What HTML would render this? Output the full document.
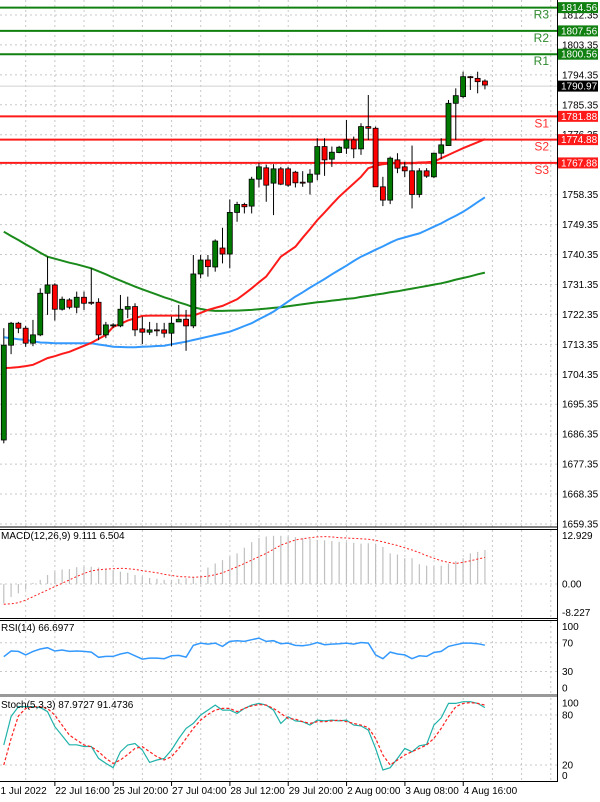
<!DOCTYPE html>
<html><head><meta charset="utf-8">
<style>
html,body{margin:0;padding:0;background:#fff;}
svg{display:block;font-family:"Liberation Sans",sans-serif;}
</style></head>
<body>
<svg id="chart" width="600" height="802" viewBox="0 0 600 802"></svg>
<script>
const openP=[1684.6,1713.1,1719.7,1718.2,1713.7,1716.2,1728.7,1731.2,1723.9,1726.7,1724.5,1727.5,1726.0,1726.0,1716.2,1718.9,1718.9,1723.9,1724.7,1718.0,1717.0,1717.7,1717.7,1716.7,1720.1,1720.9,1718.9,1734.5,1738.7,1736.6,1742.3,1740.5,1753.0,1755.4,1754.9,1763.0,1766.4,1761.8,1766.1,1766.1,1765.1,1762.1,1762.1,1764.5,1772.8,1769.0,1771.0,1772.3,1774.8,1772.1,1778.8,1778.3,1760.7,1756.7,1768.8,1766.7,1765.5,1758.4,1765.5,1763.7,1770.8,1773.1,1785.8,1787.8,1793.8,1793.3,1792.5];
const closeP=[1713.1,1719.7,1718.2,1713.7,1716.2,1728.7,1731.2,1723.9,1726.9,1724.5,1727.5,1725.7,1725.7,1716.2,1719.2,1719.2,1723.9,1724.7,1717.7,1717.0,1717.7,1717.4,1716.7,1719.7,1720.9,1718.9,1734.5,1738.7,1736.7,1744.4,1740.5,1753.0,1755.4,1754.7,1763.0,1766.7,1761.2,1766.1,1761.5,1761.2,1761.9,1761.8,1764.5,1772.8,1768.8,1771.1,1772.6,1774.8,1772.1,1778.8,1778.3,1760.7,1756.7,1769.3,1766.3,1765.5,1758.4,1765.5,1763.9,1770.8,1773.3,1785.8,1788.1,1793.8,1793.6,1792.3,1791.3];
const highP=[1718.2,1720.1,1720.1,1718.9,1720.7,1730.2,1739.7,1731.7,1727.7,1727.2,1729.2,1729.2,1736.2,1727.2,1720.1,1719.7,1728.2,1727.7,1725.7,1721.7,1720.1,1719.8,1719.8,1721.7,1725.2,1723.7,1740.2,1740.2,1740.2,1744.9,1748.4,1756.9,1756.2,1755.9,1763.7,1767.8,1767.3,1767.5,1766.7,1766.7,1765.5,1765.4,1766.0,1775.3,1775.3,1772.8,1773.0,1780.8,1775.8,1779.8,1788.3,1778.8,1763.7,1769.8,1770.8,1768.2,1773.1,1766.3,1766.3,1771.0,1775.3,1786.8,1790.3,1795.3,1794.0,1795.3,1793.0];
const lowP=[1683.6,1710.4,1716.7,1712.6,1712.8,1715.8,1722.2,1720.5,1723.5,1723.9,1722.7,1723.7,1725.2,1714.6,1715.2,1718.2,1718.5,1721.2,1715.8,1713.4,1716.2,1715.8,1715.4,1712.8,1720.1,1711.4,1718.2,1733.2,1733.7,1735.2,1737.7,1736.2,1750.2,1752.7,1752.7,1760.5,1756.2,1752.2,1761.2,1760.7,1760.5,1760.7,1758.4,1762.7,1764.0,1766.7,1770.8,1770.6,1769.3,1770.3,1774.8,1760.7,1754.9,1755.5,1764.8,1763.6,1754.2,1757.5,1763.4,1763.3,1769.0,1773.1,1774.8,1787.3,1789.8,1788.8,1790.0];
const maFast=[1706.2,1706.3,1706.5,1706.8,1707.2,1708.2,1709.2,1709.8,1710.5,1711.1,1712,1712.9,1713.8,1715,1716.2,1718.6,1719.5,1720.5,1721.2,1721.9,1722,1722,1722,1722,1722,1722,1722,1722.8,1723.7,1724.3,1724.9,1725.9,1726.9,1728.5,1730.2,1732,1733.7,1736.7,1739.7,1741.2,1742.7,1745.4,1748,1750.7,1753,1755.4,1757.7,1759.7,1761.7,1763.7,1766.3,1767,1767.5,1767.8,1767.8,1767.8,1767.8,1768,1768.1,1768.25,1769.3,1770.3,1771.3,1772.3,1773.2,1774.1,1775];
const maMid=[1715.5,1715.2,1714.9,1714.7,1714.3,1713.9,1713.8,1713.7,1713.65,1713.65,1713.65,1713.65,1713.65,1713.3,1713,1712.65,1712.55,1712.5,1712.45,1712.6,1712.7,1712.85,1712.95,1713.35,1713.75,1714.15,1714.65,1715.15,1715.65,1716.15,1716.65,1717.15,1718,1718.85,1719.7,1720.9,1722,1723.2,1724.7,1726.2,1727.7,1729,1730.4,1731.7,1733,1734.4,1735.7,1737,1738.4,1739.7,1740.7,1741.8,1742.8,1743.9,1744.9,1745.5,1746.1,1746.7,1747.7,1748.7,1749.7,1750.9,1752,1753.2,1754.6,1756.1,1757.55];
const maSlow=[1747.2,1745.9,1744.7,1743.4,1742.2,1740.9,1739.7,1739.1,1738.5,1737.9,1737.4,1736.8,1736.2,1735.3,1734.4,1733.4,1732.5,1731.6,1730.7,1729.9,1729.1,1728.3,1727.5,1726.8,1726,1725.3,1724.5,1724,1723.6,1723.4,1723.4,1723.5,1723.5,1723.6,1723.7,1723.9,1724.1,1724.3,1724.5,1724.8,1725.1,1725.4,1725.7,1726,1726.2,1726.5,1726.7,1727,1727.2,1727.6,1727.9,1728.3,1728.6,1729,1729.3,1729.7,1730.1,1730.5,1730.9,1731.3,1731.7,1732.2,1732.8,1733.3,1733.8,1734.4,1734.9];
const macdHist=[-5.2,-3.5,-2.5,-1.5,0.3,1.1,2.4,3.3,3.9,4.0,4.5,4.6,4.6,4.4,4.0,3.6,3.3,3.0,2.4,2.0,1.6,1.4,1.1,1.1,1.3,1.5,1.8,2.2,4.4,5.5,6.4,7.3,8.2,9.7,11.2,12.3,12.7,12.9,12.9,12.7,12.5,12.3,12.1,11.8,11.7,11.5,11.3,11.2,11.0,10.8,10.9,10.8,9.9,8.2,7.9,6.9,6.9,5.3,4.9,4.8,4.9,5.5,6.1,6.9,8.2,8.6,9.1];
const macdSignal=[-5.4,-5.3,-5,-4.3,-3.4,-2.5,-1.6,-0.7,0.2,1.1,2,2.8,3.5,3.8,4,4.1,4.2,4.1,3.9,3.6,3.3,3,2.6,2.3,2,1.9,1.8,1.9,2.1,2.5,3,3.8,4.6,5.5,6.4,7.3,8.2,9.3,10.4,11.1,11.8,12.1,12.4,12.6,12.7,12.6,12.4,12.3,12.2,12.1,12,11.7,11.3,10.8,10.3,9.7,9.1,8.4,7.6,6.9,6.2,5.8,5.5,5.8,6.2,6.7,7.1];
const rsiVals=[50.6,58.6,58,53.1,58,61.4,63.2,58.6,60,58,58.6,58,57,49.8,51.1,51.1,54.4,56.5,51.9,47.3,48.7,48.7,47.8,51.9,52.4,50.1,66.4,69.6,68.2,69.6,65,72,72.9,72,74.3,76.6,72,72.9,68.7,69.6,66.4,66,67.3,70.5,67.3,68.2,68.7,69.6,68.2,70.5,69.6,53.1,47.8,57,54.4,53.1,47.8,51.9,51.1,56.5,58,65,67.3,69.6,69.6,68.7,66.7];
const stochMain=[44,78.3,90.1,90.1,90.1,89,84.1,66.1,55.3,44.3,44.3,42.3,42.3,28,22,16.8,35.9,44,45.9,38,23.2,26,28,38,51.9,64,70,80,86,92,86,86,82,88,92,94,92,86,70,78,73,72,68,74,73,74,73,74,68,67,62,40,14,16.8,28,40,35.9,43.1,44.7,68,76.6,94,94,96,96,94,89];
const stochSignal=[20,51.9,79,88,90,90,88,80,68,56,50,44,42,36,28,22,26,32.7,40,42,36,30,26,30,40,52,64,74,80.7,86,88,88,84,88,91,92.6,92,88,82,76,75,72,70,72,72,73,74,72,70,68,65,52,32,20,26,32,36,40,44,52,64,78,90,94,95,94,92];
const priceTicks=[1812.35,1803.35,1794.35,1785.35,1776.35,1767.35,1758.35,1749.35,1740.35,1731.35,1722.35,1713.35,1704.35,1695.35,1686.35,1677.35,1668.35,1659.35];
const pivotNames=["R3","R2","R1","S1","S2","S3"];
const pivotValues=[1814.56,1807.56,1800.56,1781.88,1774.88,1767.88];
const timeLabels=["1 Jul 2022","22 Jul 16:00","25 Jul 20:00","27 Jul 04:00","28 Jul 12:00","29 Jul 20:00","2 Aug 00:00","3 Aug 08:00","4 Aug 16:00"];
const lastPrice=1790.97;

const NS="http://www.w3.org/2000/svg";
const svg=document.getElementById("chart");
function mk(tag,attrs,parent){const e=document.createElementNS(NS,tag);for(const k in attrs)e.setAttribute(k,attrs[k]);(parent||svg).appendChild(e);return e;}
const PR=557;
const xC=i=>3.8+i*7.29;
const yP=p=>524-(p-1659.35)*3.327;
const yM=v=>584-v*3.736;
const yR=v=>693-v*0.717;
const yS=v=>781.7-v*0.833;

// grid verticals
const grid=mk("g",{});


for(let x=25.7;x<PR;x+=29.17){
  [[0,527],[530,618],[621,694],[698,781]].forEach(r=>mk("line",{x1:x,x2:x,y1:r[0],y2:r[1],stroke:"#c8c8c8","stroke-dasharray":"2,3","stroke-width":1},grid));
}
priceTicks.forEach(p=>mk("line",{x1:0,x2:PR,y1:yP(p),y2:yP(p),stroke:"#c8c8c8","stroke-dasharray":"2,3"},grid));
mk("line",{x1:0,x2:PR,y1:yM(0),y2:yM(0),stroke:"#c8c8c8","stroke-dasharray":"2,3"},grid);
[70,30].forEach(v=>mk("line",{x1:0,x2:PR,y1:yR(v),y2:yR(v),stroke:"#c8c8c8","stroke-dasharray":"2,3"},grid));
[80,20].forEach(v=>mk("line",{x1:0,x2:PR,y1:yS(v),y2:yS(v),stroke:"#c8c8c8","stroke-dasharray":"2,3"},grid));

// current price line
const cur=mk("line",{x1:0,x2:PR,y1:yP(lastPrice),y2:yP(lastPrice),stroke:"#d0d0d0","stroke-width":1});



// moving averages
function poly(arr,fy,color,w,name,dash){
  const pts=arr.map((v,i)=>xC(i).toFixed(1)+","+fy(v).toFixed(1)).join(" ");
  const e=mk("polyline",{points:pts,fill:"none",stroke:color,"stroke-width":w});
  if(dash)e.setAttribute("stroke-dasharray",dash);
  
  
  return e;
}
poly(maSlow,yP,"#1a8a1a",2,"ma-slow-line");
poly(maMid,yP,"#3399ff",2,"ma-mid-line");
poly(maFast,yP,"#ff1a1a",2,"ma-fast-line");

// pivots
pivotValues.forEach((v,k)=>{
  const res=pivotNames[k][0]==="R";
  const col=res?"#108010":"#ff1a1a";
  const y=yP(v);
  const l=mk("line",{x1:0,x2:PR,y1:y,y2:y,stroke:col,"stroke-width":2});
  
  
  const t=mk("text",{x:549,y:y+11,"text-anchor":"end","font-size":12,fill:res?"#2e8b2e":"#ff3030"});
  t.textContent=pivotNames[k];
  
  
});

// candles
const cg=mk("g",{});


openP.forEach((o,i)=>{
  const c=closeP[i],x=xC(i);
  const wk=mk("line",{x1:x,x2:x,y1:yP(highP[i]),y2:yP(lowP[i]),stroke:"#000","stroke-width":1},cg);
  
  
  const top=yP(Math.max(o,c)),bot=yP(Math.min(o,c));
  const b=mk("rect",{x:x-2.5,y:top,width:5,height:Math.max(1,bot-top),fill:c>=o?"#007a00":"#ff0000",stroke:"#000","stroke-width":0.8},cg);
  
  
});

// MACD
const mg=mk("g",{});


macdHist.forEach((v,i)=>{
  const b=mk("line",{x1:xC(i),x2:xC(i),y1:yM(0),y2:yM(v),stroke:"#c0c0c0","stroke-width":1.2},mg);
  
  
});
poly(macdSignal,yM,"#ff2020",1,"macd-signal-line","2,2");
poly(rsiVals,yR,"#3399ff",1.5,"rsi-line");
poly(stochMain,yS,"#20b2aa",1.2,"stoch-main-line");
poly(stochSignal,yS,"#ff2020",1.2,"stoch-signal-line","3,2");

// panel borders / separators
[[527,"#000",1],[529.5,"#000",1],[618.5,"#000",1],[620.5,"#000",1],[695.5,"#999",3],[781.5,"#000",1]].forEach(s=>{
  const l=mk("line",{x1:0,x2:PR,y1:s[0],y2:s[0],stroke:s[1],"stroke-width":s[2]});
  
  
});
const ax=mk("line",{x1:PR+0.5,x2:PR+0.5,y1:0,y2:782,stroke:"#000"});



// axis labels
function txt(x,y,s,name,opt){
  const t=mk("text",Object.assign({x:x,y:y,"font-size":10,fill:"#000"},opt||{}));
  t.textContent=s;
  
  
  return t;
}
priceTicks.forEach(p=>txt(562,yP(p)+3.5,p.toFixed(2),"price-tick"));
[[12.929,"12.929"],[0,"0.00"],[-7.6,"-8.227"]].forEach(a=>txt(562,yM(a[0])+3.5,a[1],"macd-tick"));
[[100,"100"],[70,"70"],[30,"30"],[0,"0"]].forEach(a=>txt(562,(a[0]===100?626.7:a[0]===0?688:yR(a[0]))+3.5,a[1],"rsi-tick"));
[[100,"100"],[80,"80"],[20,"20"],[0,"0"]].forEach(a=>txt(562,(a[0]===100?703:a[0]===0?775.7:yS(a[0]))+3.5,a[1],"stoch-tick"));

// price boxes
pivotValues.forEach((v,k)=>{
  const res=pivotNames[k][0]==="R";
  const y=yP(v);
  const r=mk("rect",{x:558,y:y-5.5,width:40,height:11,fill:res?"#108010":"#ff1a1a"});
  
  
  txt(561,y+3.5,v.toFixed(2),"pivot-price-label",{fill:"#fff"});
});
const lb=mk("rect",{x:558,y:yP(lastPrice)-5.5,width:40,height:11,fill:"#000"});


txt(561,yP(lastPrice)+3.5,lastPrice.toFixed(2),"last-price-label",{fill:"#fff"});

// indicator titles
txt(1,539,"MACD(12,26,9) 9.111 6.504","macd-title");
txt(1,631,"RSI(14) 66.6977","rsi-title");
txt(1,708,"Stoch(5,3,3) 87.9727 91.4736","stoch-title");

// time axis
timeLabels.forEach((s,k)=>{
  const gx=k===0?0:25.7+29.17*(2*k-1);
  if(k>0){const tk=mk("line",{x1:gx,x2:gx,y1:782,y2:786,stroke:"#000"});
    
    }
  txt(k===0?0.5:gx+0.5,794,s,"time-label");
});
</script>
</body></html>
